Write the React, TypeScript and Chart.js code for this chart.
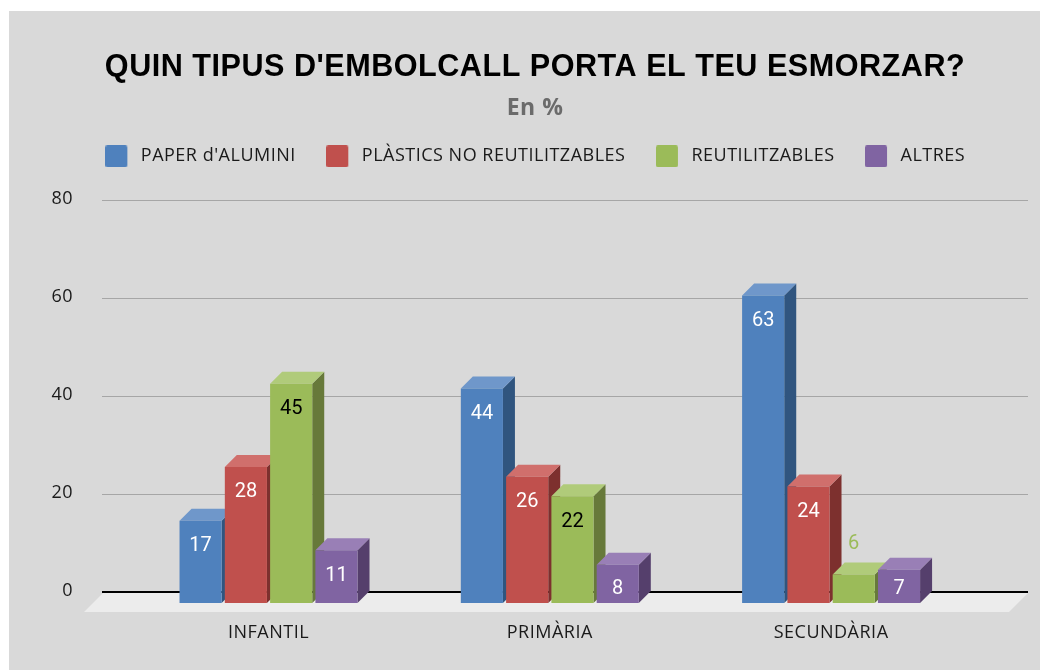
import React, { useEffect, useRef } from "react";
import { Chart, registerables } from "chart.js";

Chart.register(...registerables);

const categories = ["INFANTIL", "PRIMÀRIA", "SECUNDÀRIA"];
const seriesNames = ["PAPER d'ALUMINI", "PLÀSTICS NO REUTILITZABLES", "REUTILITZABLES", "ALTRES"];
const paperAlumini = [17, 44, 63];
const plastics = [28, 26, 24];
const reutilitzables = [45, 22, 6];
const altres = [11, 8, 7];
const yTicks = [0, 20, 40, 60, 80];
const seriesColors = ["#4f81bd", "#c0504d", "#9bbb59", "#8064a2"];
const seriesFaceTop = ["#6f97ca", "#d06f6c", "#b0cb7a", "#997fb6"];
const seriesFaceSide = ["#30557f", "#7d302e", "#67793a", "#553f6c"];
const labelColors = ["#ffffff", "#ffffff", "#000000", "#ffffff"];

const DEPTH = 12;
const FLOOR = 19;

function legendSwatch(color: string) {
  const c = document.createElement("canvas");
  c.width = 26;
  c.height = 22;
  const g = c.getContext("2d") as any;
  g.fillStyle = color;
  g.beginPath();
  g.roundRect(0, 0, 22, 22, 2);
  g.fill();
  return c;
}

const solid3d = {
  id: "solid3d",
  beforeInit(chart: any) {
    const legend = chart.legend;
    const fit = legend.fit;
    legend.fit = function () {
      fit.call(legend);
      legend.height += 25;
    };
  },
  beforeLayout(chart: any) {
    chart.ctx.letterSpacing = "0.5px";
  },
  beforeDatasetsDraw(chart: any) {
    const { ctx, chartArea, scales } = chart;
    const y0 = scales.y.getPixelForValue(0);
    ctx.save();
    ctx.fillStyle = "#ececec";
    ctx.beginPath();
    ctx.moveTo(chartArea.left + 1, y0 + 1);
    ctx.lineTo(chartArea.right, y0 + 1);
    ctx.lineTo(chartArea.right - FLOOR, y0 + 1 + FLOOR);
    ctx.lineTo(chartArea.left + 1 - FLOOR, y0 + 1 + FLOOR);
    ctx.closePath();
    ctx.fill();
    ctx.restore();

    // Left-to-right paint order, so each bar's front covers its neighbour's side.
    chart.data.datasets.forEach((_: any, i: number) => {
      const meta = chart.getDatasetMeta(i);
      ctx.save();
      ctx.translate(0, DEPTH);
      meta.data.forEach((bar: any) => {
        const l = bar.x - bar.width / 2;
        const r = bar.x + bar.width / 2;
        ctx.fillStyle = seriesFaceSide[i];
        ctx.beginPath();
        ctx.moveTo(r, bar.y);
        ctx.lineTo(r + DEPTH, bar.y - DEPTH);
        ctx.lineTo(r + DEPTH, bar.base - DEPTH);
        ctx.lineTo(r, bar.base);
        ctx.closePath();
        ctx.fill();
        ctx.fillStyle = seriesFaceTop[i];
        ctx.beginPath();
        ctx.moveTo(l, bar.y);
        ctx.lineTo(l + DEPTH, bar.y - DEPTH);
        ctx.lineTo(r + DEPTH, bar.y - DEPTH);
        ctx.lineTo(r, bar.y);
        ctx.closePath();
        ctx.fill();
      });
      meta.controller.draw();
      ctx.restore();
    });

    ctx.save();
    ctx.letterSpacing = "0px";
    ctx.font = "20px Roboto";
    ctx.textAlign = "center";
    ctx.textBaseline = "middle";
    chart.data.datasets.forEach((ds: any, i: number) => {
      chart.getDatasetMeta(i).data.forEach((bar: any, j: number) => {
        const value = ds.data[j].y;
        const top = bar.y + DEPTH;
        const base = bar.base + DEPTH;
        if (base - top < 30) {
          ctx.fillStyle = seriesColors[i];
          ctx.fillText(String(value), bar.x, top - 31);
        } else {
          ctx.fillStyle = labelColors[i];
          ctx.fillText(String(value), bar.x, Math.min(top + 25.5, base - 14.5));
        }
      });
    });
    ctx.restore();
    return false;
  },
};

export default function App() {
  const ref = useRef<HTMLCanvasElement>(null);
  useEffect(() => {
    const all = [paperAlumini, plastics, reutilitzables, altres];
    const swatches = seriesColors.map(legendSwatch);
    const chart = new Chart(ref.current as HTMLCanvasElement, {
      type: "bar",
      data: {
        datasets: all.map((values, i) => ({
          label: seriesNames[i],
          data: values.map((y, x) => ({ x, y })),
          backgroundColor: seriesColors[i],
          categoryPercentage: 0.644,
          barPercentage: 0.93,
        })),
      } as any,
      options: {
        responsive: false,
        animation: false,
        layout: { padding: { left: 21, right: 21, top: 49, bottom: 0 } },
        plugins: {
          tooltip: { enabled: false },
          title: {
            display: true,
            text: "QUIN TIPUS D'EMBOLCALL PORTA EL TEU ESMORZAR?",
            color: "#000000",
            font: { family: "'Liberation Sans'", size: 30.6, weight: "bold" },
            padding: { top: 0, bottom: 9 },
          },
          subtitle: {
            display: true,
            text: "En %",
            color: "#6b6b6b",
            font: { family: "'Open Sans'", size: 23, weight: "bold" },
            padding: { top: 0, bottom: -5 },
          },
          legend: {
            display: true,
            position: "top",
            labels: {
              usePointStyle: true,
              pointStyleWidth: 27,
              padding: 30,
              color: "#1a1a1a",
              font: { family: "'Open Sans'", size: 18 },
              generateLabels: (c: any) =>
                c.data.datasets.map((ds: any, i: number) => ({
                  text: ds.label,
                  fontColor: "#1a1a1a",
                  pointStyle: swatches[i],
                  fillStyle: seriesColors[i],
                  strokeStyle: seriesColors[i],
                  lineWidth: 0,
                  datasetIndex: i,
                })),
            },
          },
        },
        scales: {
          x: {
            type: "linear",
            offset: false,
            min: -0.592,
            max: 2.7,
            grid: { display: false, drawTicks: false },
            border: { display: false },
            afterBuildTicks: (scale: any) => {
              scale.ticks = categories.map((_, value) => ({ value }));
            },
            afterFit: (scale: any) => {
              scale.height = 78;
            },
            ticks: {
              autoSkip: false,
              maxRotation: 0,
              padding: 30,
              color: "#1a1a1a",
              font: { family: "'Open Sans'", size: 18 },
              callback: (v: any) => categories[Number(v)],
            },
          },
          y: {
            min: yTicks[0],
            max: yTicks[yTicks.length - 1],
            border: { display: false },
            grid: {
              drawTicks: false,
              color: (c: any) => (c.tick.value === 0 ? "#000000" : "#a6a6a6"),
              lineWidth: (c: any) => (c.tick.value === 0 ? 2 : 1),
            },
            afterBuildTicks: (scale: any) => {
              scale.ticks = yTicks.map((value) => ({ value }));
            },
            afterFit: (scale: any) => {
              scale.width = 60;
            },
            ticks: {
              padding: 29,
              labelOffset: -1,
              color: "#1a1a1a",
              font: { family: "'Open Sans'", size: 18 },
            },
          },
        },
      },
      plugins: [solid3d],
    } as any);
    return () => chart.destroy();
  }, []);
  return (
    <div style={{ position: "absolute", left: 0, top: 0, width: 1049, height: 670, background: "#ffffff", overflow: "hidden" }}>
      <div style={{ position: "absolute", left: 9, top: 11, width: 1031, height: 659, background: "#d9d9d9" }} />
      <canvas ref={ref} width={1028} height={670} style={{ position: "absolute", left: 21, top: 0, display: "block" }} />
    </div>
  );
}
